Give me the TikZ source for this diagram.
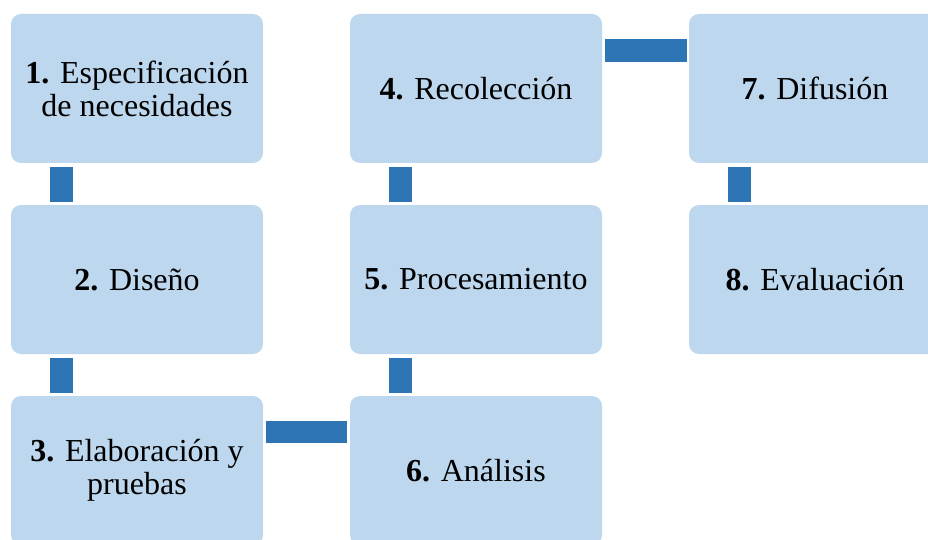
\documentclass[tikz,border=0pt]{standalone}
\usepackage{fontspec}
\setmainfont{Liberation Serif}
\definecolor{boxfill}{HTML}{BDD7EE}
\definecolor{connfill}{HTML}{2E75B6}
\begin{document}
\begin{tikzpicture}[x=1pt,y=-1pt,
  stepbox/.style={rectangle,rounded corners=10pt,fill=boxfill,draw=none,
    minimum width=252pt,minimum height=149pt,inner sep=0pt,align=center,
    font=\fontsize{32}{33}\selectfont},
  conn/.style={fill=connfill}]
\useasboundingbox (0,0) rectangle (928,540);
\clip (0,0) rectangle (928,540);
\node[stepbox] (b1) at (137,88.5) {\textbf{1.} Especificación\\de necesidades};
\node[stepbox] (b2) at (137,279.5) {\textbf{2.} Diseño};
\node[stepbox] (b3) at (137,470.5) {\textbf{3.} Elaboración y\\pruebas};
\node[stepbox] (b4) at (476,88.5) {\textbf{4.} Recolección};
\node[stepbox] (b5) at (476,279.5) {\textbf{5.} Procesamiento};
\node[stepbox] (b6) at (476,470.5) {\textbf{6.} Análisis};
\node[stepbox] (b7) at (815,88.5) {\textbf{7.} Difusión};
\node[stepbox] (b8) at (815,279.5) {\textbf{8.} Evaluación};
% vertical connectors
\fill[conn] ([xshift=39pt,yshift=-4pt]b1.south west) rectangle ([xshift=62pt,yshift=3pt]b2.north west);
\fill[conn] ([xshift=39pt,yshift=-4pt]b2.south west) rectangle ([xshift=62pt,yshift=3pt]b3.north west);
\fill[conn] ([xshift=39pt,yshift=-4pt]b4.south west) rectangle ([xshift=62pt,yshift=3pt]b5.north west);
\fill[conn] ([xshift=39pt,yshift=-4pt]b5.south west) rectangle ([xshift=62pt,yshift=3pt]b6.north west);
\fill[conn] ([xshift=39pt,yshift=-4pt]b7.south west) rectangle ([xshift=62pt,yshift=3pt]b8.north west);
% horizontal connectors
\fill[conn] ([xshift=3pt,yshift=-25pt]b3.north east) rectangle ([xshift=-3pt,yshift=-47pt]b6.north west);
\fill[conn] ([xshift=3pt,yshift=-25pt]b4.north east) rectangle ([xshift=-2pt,yshift=-48pt]b7.north west);
\end{tikzpicture}
\end{document}
